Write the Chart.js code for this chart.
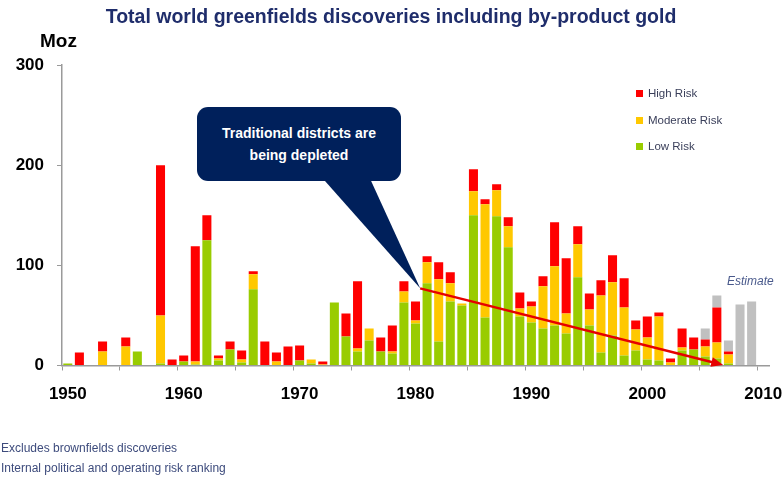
<!DOCTYPE html>
<html>
<head>
<meta charset="utf-8">
<script src="https://cdn.jsdelivr.net/npm/chart.js@4.4.0/dist/chart.umd.min.js"></script>
<style>
  html, body { margin: 0; padding: 0; background: #fff; }
  #wrap { position: relative; width: 782px; height: 481px; overflow: hidden; font-family: "Liberation Sans", Arial, sans-serif; }
  #chart { position: absolute; left: 0; top: 0; }
  .title { position: absolute; left: 0; top: 5px; width: 782px; text-align: center; font-weight: bold; font-size: 19.5px; color: #1f2d6b; }
  .unit { position: absolute; left: 40px; top: 30px; font-weight: bold; font-size: 19px; color: #000; }
  .callout { position: absolute; left: 197px; top: 107px; width: 204px; height: 74px; background: #00205b; border-radius: 11px;
             color: #fff; font-weight: bold; font-size: 14px; line-height: 22px; text-align: center; padding-top: 15px; box-sizing: border-box; }
  .estimate { position: absolute; left: 727px; top: 274px; font-style: italic; font-size: 12px; color: #4a5a8c; }
  #legend { position: absolute; left: 636px; top: 87px; font-size: 11.5px; color: #3a3f5a; }
  #legend div { height: 26.5px; display: flex; align-items: flex-start; }
  #legend span.box { display: inline-block; width: 7px; height: 7px; margin: 3px 5px 0 0; }
  .note { position: absolute; left: 1px; font-size: 12px; color: #3d4b7c; }
</style>
</head>
<body>
<div id="wrap">
  <canvas id="chart" width="782" height="481"></canvas>
  <div class="title">Total world greenfields discoveries including by-product gold</div>
  <div class="unit">Moz</div>
  <div class="callout">Traditional districts are<br>being depleted</div>
  <div class="estimate">Estimate</div>
  <div id="legend"></div>
  <div class="note" style="top:441px">Excludes brownfields discoveries</div>
  <div class="note" style="top:461px">Internal political and operating risk ranking</div>
</div>
<script>
// years on the x axis
const years = [1950, 1951, 1952, 1953, 1954, 1955, 1956, 1957, 1958, 1959,
               1960, 1961, 1962, 1963, 1964, 1965, 1966, 1967, 1968, 1969,
               1970, 1971, 1972, 1973, 1974, 1975, 1976, 1977, 1978, 1979,
               1980, 1981, 1982, 1983, 1984, 1985, 1986, 1987, 1988, 1989,
               1990, 1991, 1992, 1993, 1994, 1995, 1996, 1997, 1998, 1999,
               2000, 2001, 2002, 2003, 2004, 2005, 2006, 2007, 2008, 2009,
               2010];

// Moz per year, by risk class
const lowRisk = [2, 0, 0, 0, 0, 0, 14, 0, 2, 0,
                 4, 1, 125, 5, 16, 3, 76, 0, 0, 0,
                 5, 2, 0, 63, 29, 14, 25, 14, 12, 63,
                 42, 82, 24, 64, 60, 150, 48, 149, 118, 49,
                 43, 37, 40, 32, 88, 40, 13, 30, 10, 15,
                 6, 5, 0, 15, 16, 9, 7, 2, 0, 0,
                 0];
const moderateRisk = [0, 0, 0, 14, 0, 19, 0, 0, 48, 0,
                      0, 3, 0, 2, 0, 3, 15, 0, 4, 0,
                      0, 4, 1, 0, 0, 3, 12, 0, 2, 11,
                      3, 21, 62, 18, 2, 24, 113, 26, 21, 8,
                      16, 42, 59, 20, 33, 16, 57, 53, 48, 21,
                      22, 44, 3, 3, 0, 10, 16, 9, 0, 0,
                      0];
const highRisk = [0, 13, 0, 10, 0, 9, 0, 0, 150, 6,
                  6, 115, 25, 3, 8, 9, 3, 24, 9, 19,
                  15, 0, 3, 0, 23, 67, 0, 14, 26, 10,
                  19, 6, 17, 11, 0, 22, 5, 6, 9, 16,
                  5, 10, 44, 55, 18, 16, 15, 27, 29, 9,
                  21, 4, 4, 19, 12, 7, 35, 3, 0, 0,
                  0];
const estimate = [0, 0, 0, 0, 0, 0, 0, 0, 0, 0,
                  0, 0, 0, 0, 0, 0, 0, 0, 0, 0,
                  0, 0, 0, 0, 0, 0, 0, 0, 0, 0,
                  0, 0, 0, 0, 0, 0, 0, 0, 0, 0,
                  0, 0, 0, 0, 0, 0, 0, 0, 0, 0,
                  0, 0, 0, 0, 0, 11, 12, 11, 61, 64,
                  0];

// depletion trend arrow (year, Moz); whole years sit on the bar centres
const trendYears = [1980.4, 2006.05];
const trendValues = [77, 2];

const yTicks = [0, 100, 200, 300];

const navy = "#00205b";

// callout pointer + red trend arrow, positioned through the chart scales
const annotations = {
  id: "annotations",
  afterDatasetsDraw(chart) {
    const c = chart.ctx;
    const xs = chart.scales.x, ys = chart.scales.y;
    const x0 = xs.getPixelForValue(trendYears[0] - years[0]), y0 = ys.getPixelForValue(trendValues[0]);
    const x1 = xs.getPixelForValue(trendYears[1] - years[0]), y1 = ys.getPixelForValue(trendValues[1]);
    c.save();
    // pointer of the callout box
    c.fillStyle = navy;
    c.beginPath();
    c.moveTo(317, 172);
    c.lineTo(367, 172);
    c.lineTo(x0, y0);
    c.closePath();
    c.fill();
    // trend line
    c.strokeStyle = "#e60000";
    c.lineWidth = 2.5;
    c.beginPath();
    c.moveTo(x0, y0);
    c.lineTo(x1, y1);
    c.stroke();
    // arrow head
    const a = Math.atan2(y1 - y0, x1 - x0);
    c.fillStyle = "#e60000";
    c.beginPath();
    c.moveTo(x1 + 6 * Math.cos(a), y1 + 6 * Math.sin(a));
    c.lineTo(x1 - 6 * Math.cos(a) + 5 * Math.sin(a), y1 - 6 * Math.sin(a) - 5 * Math.cos(a));
    c.lineTo(x1 - 6 * Math.cos(a) - 5 * Math.sin(a), y1 - 6 * Math.sin(a) + 5 * Math.cos(a));
    c.closePath();
    c.fill();
    c.restore();
  }
};

const riskSeries = [
  { label: "High Risk", color: "#ff0000" },
  { label: "Moderate Risk", color: "#ffc800" },
  { label: "Low Risk", color: "#99cc00" }
];

// legend (top-down like the original)
document.getElementById("legend").innerHTML = riskSeries.map(s =>
  '<div><span class="box" style="background:' + s.color + '"></span>' + s.label + '</div>').join("");

new Chart(document.getElementById("chart"), {
  type: "bar",
  data: {
    labels: years,
    datasets: [
      { label: "Low Risk", data: lowRisk, backgroundColor: "#99cc00" },
      { label: "Moderate Risk", data: moderateRisk, backgroundColor: "#ffc800" },
      { label: "High Risk", data: highRisk, backgroundColor: "#ff0000" },
      { label: "Estimate", data: estimate, backgroundColor: "#c0c0c0" }
    ]
  },
  options: {
    responsive: false,
    animation: false,
    categoryPercentage: 1.0,
    barPercentage: 0.78,
    layout: { padding: { left: 0, right: 13, top: 65, bottom: 75.5 } },
    plugins: {
      legend: { display: false },
      tooltip: { enabled: false },
      title: { display: false }
    },
    scales: {
      x: {
        stacked: true,
        offset: true,
        afterFit: s => { s.height = 40; s.paddingLeft = 0; s.paddingRight = 0; },
        grid: {
          offset: true,
          drawOnChartArea: false,
          tickLength: 5,
          color: ctx => (ctx.index !== undefined && ctx.index % 5 === 0) ? "#9a9a9a" : "rgba(0,0,0,0)"
        },
        border: { color: "#9a9a9a", width: 1.5 },
        ticks: {
          autoSkip: false,
          maxRotation: 0,
          padding: 14,
          color: "#000",
          font: { family: "Liberation Sans", weight: "bold", size: 17 },
          callback: function (v, i) { return years[i] % 10 === 0 ? String(years[i]) : ""; }
        }
      },
      y: {
        stacked: true,
        min: 0,
        max: 300,
        afterFit: s => { s.width = 62; s.paddingTop = 0; s.paddingBottom = 0; },
        afterBuildTicks: s => { s.ticks = yTicks.map(v => ({ value: v })); },
        grid: { drawOnChartArea: false, tickLength: 5, color: "#9a9a9a" },
        border: { color: "#9a9a9a", width: 1.5 },
        ticks: {
          padding: 13,
          color: "#000",
          font: { family: "Liberation Sans", weight: "bold", size: 17 }
        }
      }
    }
  },
  plugins: [annotations]
});
</script>
</body>
</html>
